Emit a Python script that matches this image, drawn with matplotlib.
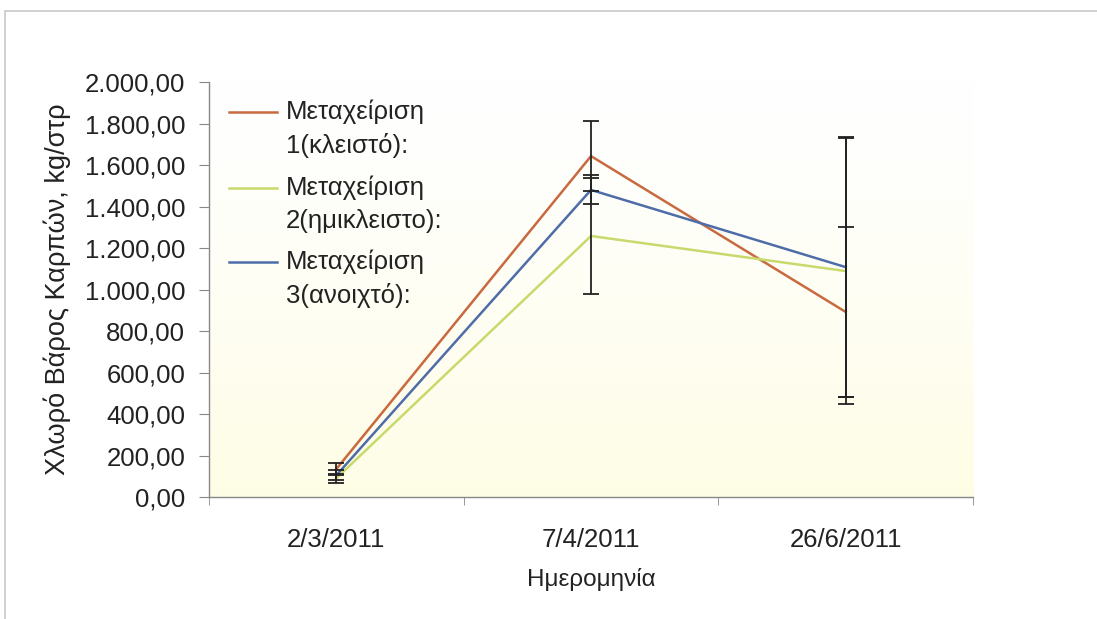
import numpy as np
import matplotlib
matplotlib.use("Agg")
import matplotlib.pyplot as plt
from matplotlib.ticker import FuncFormatter, FixedLocator
from matplotlib.patches import Rectangle

dates = ["2/3/2011", "7/4/2011", "26/6/2011"]
labels = [("Μεταχείριση", "1(κλειστό):"),
          ("Μεταχείριση", "2(ημικλειστο):"),
          ("Μεταχείριση", "3(ανοιχτό):")]
colors = ["#C8693F", "#C9DA6C", "#4E6DA8"]

s1 = [135, 1643, 892]
s2 = [90, 1258, 1089]
s3 = [105, 1480, 1108]
err1 = [30, 170, 410]
err2 = [20, 278, 640]
err3 = [25, 70, 625]

FS = 18.5
TXT = "#222222"
plt.rcParams["font.family"] = ["Liberation Sans", "DejaVu Sans"]

fig = plt.figure(figsize=(10.97, 6.19), dpi=100)
fig.patches.append(Rectangle((0.005, -0.1), 1.2, 1.083, transform=fig.transFigure,
                             fill=False, edgecolor="#C8C8C8", lw=1.2))
ax = fig.add_axes([0.1905, 0.197, 0.6965, 0.6705])

# soft white -> pale yellow gradient in the plot area
grad = np.linspace(0, 1, 256).reshape(-1, 1)
top = np.array([1.0, 1.0, 1.0])
bot = np.array([0.996, 0.992, 0.90])
img = top + (bot - top) * grad[:, :, None] ** 1.3
ax.imshow(img, extent=[0, 1, 0, 1], transform=ax.transAxes, aspect="auto", zorder=0)

x = np.arange(len(dates)) + 0.5
for ys, es, c in zip([s1, s2, s3], [err1, err2, err3], colors):
    ax.plot(x, ys, color=c, lw=1.8, zorder=3)
    ax.errorbar(x, ys, yerr=es, fmt="none", ecolor="#222222", elinewidth=1.3,
                capsize=6, capthick=1.3, zorder=4)

ax.set_xlim(0, 3)
ax.set_ylim(0, 2000)
ax.set_yticks(np.arange(0, 2001, 200))
ax.yaxis.set_major_formatter(FuncFormatter(
    lambda v, p: f"{v:,.2f}".replace(",", "X").replace(".", ",").replace("X", ".")))
ax.set_xticks(x)
ax.set_xticklabels(dates)
ax.xaxis.set_minor_locator(FixedLocator([0, 1, 2, 3]))
ax.tick_params(axis="x", which="major", length=0, labelsize=FS, pad=22, colors=TXT)
ax.tick_params(axis="x", which="minor", length=6, color="#888888")
ax.tick_params(axis="y", length=7, color="#888888", labelsize=FS, pad=10, colors=TXT)

for side in ("top", "right"):
    ax.spines[side].set_visible(False)
for side in ("left", "bottom"):
    ax.spines[side].set_color("#888888")
    ax.spines[side].set_linewidth(1.0)

ax.set_xlabel("Ημερομηνία", fontsize=FS - 1, labelpad=12, color=TXT)
ax.set_ylabel("Χλωρό Βάρος Καρπών, kg/στρ", fontsize=19.5, labelpad=10, color=TXT)

# legend: handle aligned with the first line of each two-line label
leg_y = [0.928, 0.745, 0.566]
line_gap = 0.081
for (l1, l2), c, yy in zip(labels, colors, leg_y):
    ax.plot([0.026, 0.089], [yy, yy], color=c, lw=1.8, transform=ax.transAxes,
            clip_on=False, zorder=5)
    ax.text(0.101, yy, l1, transform=ax.transAxes, fontsize=FS, color=TXT,
            va="center", ha="left")
    ax.text(0.101, yy - line_gap, l2, transform=ax.transAxes, fontsize=FS, color=TXT,
            va="center", ha="left")

fig.savefig("out.png", dpi=100)
